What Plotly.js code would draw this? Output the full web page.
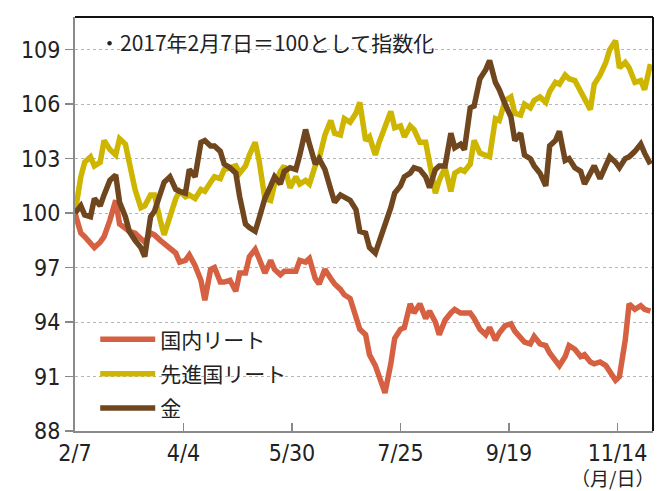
<!DOCTYPE html>
<html>
<head>
<meta charset="utf-8">
<script src="https://cdn.plot.ly/plotly-3.0.1.min.js"></script>
<style>html,body{margin:0;padding:0;background:#fff;}#chart{width:666px;height:491px;}</style>
</head>
<body>
<div id="chart"></div>
<script>
const dates = ['2017-02-07','2017-02-10','2017-02-12','2017-02-15','2017-02-17','2017-02-20','2017-02-22','2017-02-25','2017-02-28','2017-03-02',
'2017-03-05','2017-03-07','2017-03-10','2017-03-13','2017-03-15','2017-03-18','2017-03-20','2017-03-23','2017-03-25','2017-03-28',
'2017-03-31','2017-04-02','2017-04-05','2017-04-07','2017-04-10','2017-04-13','2017-04-15','2017-04-18','2017-04-20','2017-04-23',
'2017-04-25','2017-04-28','2017-05-01','2017-05-03','2017-05-06','2017-05-08','2017-05-11','2017-05-13','2017-05-16','2017-05-19',
'2017-05-21','2017-05-24','2017-05-26','2017-05-29','2017-06-01','2017-06-03','2017-06-06','2017-06-08','2017-06-11','2017-06-13',
'2017-06-16','2017-06-19','2017-06-21','2017-06-24','2017-06-26','2017-06-29','2017-07-02','2017-07-04','2017-07-07','2017-07-09',
'2017-07-12','2017-07-14','2017-07-17','2017-07-20','2017-07-22','2017-07-25','2017-07-27','2017-07-30','2017-08-01','2017-08-04',
'2017-08-07','2017-08-09','2017-08-12','2017-08-14','2017-08-17','2017-08-20','2017-08-22','2017-08-25','2017-08-27','2017-08-30',
'2017-09-01','2017-09-04','2017-09-07','2017-09-09','2017-09-12','2017-09-14','2017-09-17','2017-09-20','2017-09-22','2017-09-25',
'2017-09-27','2017-09-30','2017-10-02','2017-10-05','2017-10-08','2017-10-10','2017-10-13','2017-10-15','2017-10-18','2017-10-20',
'2017-10-23','2017-10-26','2017-10-28','2017-10-31','2017-11-02','2017-11-05','2017-11-08','2017-11-10','2017-11-13','2017-11-15',
'2017-11-18','2017-11-20','2017-11-23','2017-11-26','2017-11-28','2017-12-01'];

// 国内リート
const jReit = [100.0,98.9,98.7,98.3,98.1,98.4,98.7,99.6,100.7,99.4,
99.2,99.0,98.9,98.6,98.4,98.9,98.8,98.5,98.3,98.1,
97.8,97.3,97.4,97.7,97.1,96.3,95.2,96.9,97.0,96.2,
96.2,96.3,95.7,96.7,96.7,97.6,98.0,97.5,96.7,97.4,
96.9,96.6,96.8,96.8,96.8,97.4,97.3,97.5,96.4,96.1,
96.9,96.4,96.1,95.8,95.5,95.3,94.3,93.6,93.3,92.2,
91.6,91.0,90.1,91.7,93.1,93.6,93.7,95.0,94.5,95.0,
94.2,94.6,94.0,93.3,94.1,94.5,94.7,94.5,94.5,94.5,
94.2,93.6,93.3,93.7,93.0,93.4,93.8,93.9,93.5,93.1,
92.9,92.8,93.2,92.8,92.7,92.3,91.9,91.6,92.1,92.7,
92.5,92.1,92.2,91.8,91.7,91.8,91.6,91.3,90.8,91.0,
93.0,95.0,94.7,94.9,94.7,94.6];

// 先進国リート
const gReit = [100.0,102.0,102.8,103.1,102.6,102.8,104.0,103.5,103.2,104.1,
103.8,102.8,101.3,100.3,100.4,101.0,101.0,99.6,98.8,99.8,
100.8,101.2,100.9,101.0,100.8,101.3,101.2,101.7,102.0,101.9,
102.4,102.5,102.6,102.2,102.6,103.2,103.9,102.9,100.8,100.7,
101.6,102.3,102.6,101.4,102.0,101.6,101.8,101.6,102.6,103.0,
104.3,105.1,104.4,104.3,105.2,105.0,105.5,106.1,104.0,104.2,
103.2,103.9,104.8,105.6,104.7,104.8,104.2,104.8,104.6,103.9,
103.9,102.8,101.1,101.8,102.5,101.2,102.2,102.4,102.3,102.7,
104.0,103.3,103.2,103.1,105.2,105.1,106.2,106.4,105.5,105.4,
106.0,105.8,106.2,106.4,106.1,106.7,107.2,107.1,107.6,107.4,
107.3,106.7,106.2,105.7,107.1,107.6,108.3,109.0,109.5,108.0,
108.3,108.0,107.2,107.3,106.8,108.2];

// 金
const gold = [100.0,100.4,99.9,99.8,100.8,100.4,101.0,101.8,102.1,100.6,
99.8,99.0,98.5,98.1,97.6,99.8,100.1,101.2,101.7,102.0,
101.3,101.2,101.1,102.4,102.0,103.9,104.0,103.7,103.7,103.4,
102.7,102.5,102.2,100.9,99.4,99.2,99.0,99.7,100.8,101.5,
102.0,101.6,102.3,102.5,102.4,103.2,104.6,103.8,102.7,103.0,
102.4,101.3,100.6,101.0,100.9,100.7,100.2,99.0,98.9,98.1,
97.8,98.4,99.3,100.3,101.1,101.5,102.0,102.2,102.5,102.4,
102.0,101.4,102.4,102.6,102.6,104.4,103.6,103.8,103.5,105.8,
105.9,107.4,107.9,108.4,107.2,106.8,106.0,105.3,104.0,104.4,
103.2,103.0,102.6,102.2,101.5,103.7,104.0,104.5,102.9,103.0,
102.5,102.3,101.6,102.2,102.6,101.9,102.6,103.1,102.8,102.5,
103.0,103.1,103.4,103.8,103.3,102.7];

const seriesNames = ['国内リート','先進国リート','金'];
const seriesColors = ['#D66042','#CDB500','#6F461E'];
const yTicks = [88,91,94,97,100,103,106,109];

const jpFont = '"Noto Sans CJK JP", "Noto Sans", sans-serif';
const numFont = '"Liberation Sans Narrow", "DejaVu Sans Condensed", sans-serif';

const traces = [jReit, gReit, gold].map((vals, i) => ({
  type: 'scatter', mode: 'lines', x: dates, y: vals,
  name: seriesNames[i], legendgroup: 'g' + i,
  line: {color: seriesColors[i], width: 5.5}
}));

const layout = {
  width: 666, height: 491,
  margin: {l: 75, r: 13, t: 17, b: 60},
  paper_bgcolor: '#fff', plot_bgcolor: '#fff',
  showlegend: true,
  legend: {x: 0.035, y: 0.27, xanchor: 'left', yanchor: 'top', bgcolor: 'rgba(0,0,0,0)',
           font: {family: jpFont, size: 21, color: '#222'}, tracegroupgap: 4, itemwidth: 55},
  xaxis: {type: 'date', range: ['2017-02-07', '2017-12-02 08:00'],
          tickmode: 'linear', tick0: '2017-02-07', dtick: 56 * 86400000, tickformat: '%-m/%-d',
          ticks: 'inside', ticklen: 8, tickwidth: 1.5, tickcolor: '#888',
          showline: true, linecolor: '#8a8a8a', linewidth: 2, showgrid: false, zeroline: false,
          tickfont: {family: numFont, size: 23, color: '#222'}, fixedrange: true},
  yaxis: {range: [88, 110.8], tickmode: 'array', tickvals: yTicks, ticktext: yTicks.map(String),
          ticks: 'outside', ticklen: 8, tickwidth: 1.5, tickcolor: '#888',
          showline: true, linecolor: '#8a8a8a', linewidth: 2,
          showgrid: true, gridcolor: '#b5b5b5', griddash: 'dot', gridwidth: 1, zeroline: false,
          tickfont: {family: numFont, size: 23, color: '#222'}, fixedrange: true},
  shapes: [
    {type: 'line', xref: 'paper', yref: 'paper', x0: 0, x1: 1, y0: 1, y1: 1, line: {color: '#111', width: 2}},
    {type: 'line', xref: 'paper', yref: 'paper', x0: 1, x1: 1, y0: 0, y1: 1, line: {color: '#111', width: 2}}
  ],
  annotations: [
    {xref: 'paper', yref: 'paper', x: 0.038, y: 0.94, xanchor: 'left', yanchor: 'middle', showarrow: false,
     text: '・2017年2月7日＝100として指数化', font: {family: jpFont, size: 21, color: '#222'}},
    {xref: 'paper', yref: 'paper', x: 1.005, y: -0.074, xanchor: 'right', yanchor: 'top', showarrow: false,
     text: '（月/日）', font: {family: jpFont, size: 19, color: '#222'}},
    {xref: 'paper', yref: 'paper', x: 0.65, y: 1.031, xanchor: 'center', yanchor: 'bottom', showarrow: false,
     text: '（期間：2017年2月7日～2017年11月29日、日次）', font: {family: jpFont, size: 21, color: '#222'}}
  ]
};

Plotly.newPlot('chart', traces, layout, {staticPlot: true, displayModeBar: false});
</script>
</body>
</html>
